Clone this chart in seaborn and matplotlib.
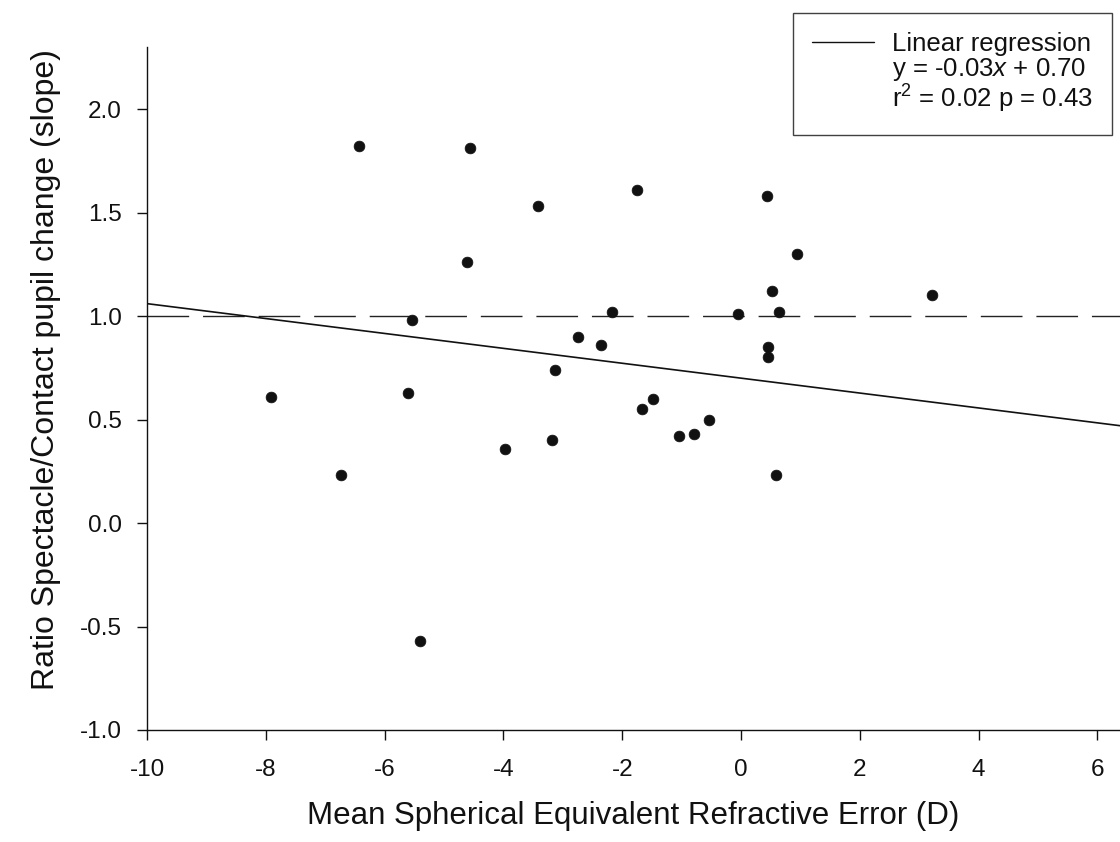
import numpy as np
import pandas as pd
import matplotlib
matplotlib.use("Agg")
import matplotlib.pyplot as plt
from matplotlib.lines import Line2D
import seaborn as sns

# ---- data ----
refractive_error = [-7.91, -6.73, -6.43, -5.60, -5.54, -5.40, -4.56, -4.61, -3.97, -3.42,
                    -3.18, -3.13, -2.74, -2.36, -2.17, -1.75, -1.67, -1.48, -1.04, -0.79,
                    -0.54, -0.05, 0.44, 0.46, 0.46, 0.52, 0.59, 0.64, 0.95, 3.21]
ratio_slope = [0.61, 0.23, 1.82, 0.63, 0.98, -0.57, 1.81, 1.26, 0.36, 1.53,
               0.40, 0.74, 0.90, 0.86, 1.02, 1.61, 0.55, 0.60, 0.42, 0.43,
               0.50, 1.01, 1.58, 0.85, 0.80, 1.12, 0.23, 1.02, 1.30, 1.10]
reg_slope = -0.036
reg_intercept = 0.70
reference_ratio = 1.0
x_ticks = [-10, -8, -6, -4, -2, 0, 2, 4, 6]
y_ticks = [-1.0, -0.5, 0.0, 0.5, 1.0, 1.5, 2.0]
legend_lines = ["Linear regression", "y = -0.03$x$ + 0.70", "r$^2$ = 0.02 p = 0.43"]
x_label = "Mean Spherical Equivalent Refractive Error (D)"
y_label = "Ratio Spectacle/Contact pupil change (slope)"

sns.set_theme(style="ticks")
plt.rcParams["font.family"] = ["Liberation Sans", "DejaVu Sans"]
plt.rcParams["mathtext.fontset"] = "custom"
plt.rcParams["mathtext.rm"] = "Liberation Sans"
plt.rcParams["mathtext.it"] = "Liberation Sans:italic"
plt.rcParams["axes.unicode_minus"] = False

df = pd.DataFrame({"x": refractive_error, "y": ratio_slope})

fig = plt.figure(figsize=(11.2, 8.42), dpi=100)
ax = fig.add_axes([147 / 1120, 1 - 730 / 842, 1 - 147 / 1120, (730 - 47) / 842])

xlim = (-10, 6.38)
ylim = (-1.0, 2.3)

# dashed reference line at ratio = 1
ax.axhline(reference_ratio, color="#222222", lw=1.0, linestyle=(0, (30, 10)), zorder=1)

# regression line
line_df = pd.DataFrame({"x": list(xlim)})
line_df["y"] = reg_intercept + reg_slope * line_df["x"]
sns.lineplot(data=line_df, x="x", y="y", ax=ax, color="#111111", lw=1.2, zorder=2)

# scatter
sns.scatterplot(data=df, x="x", y="y", ax=ax, color="#111111", s=60,
                edgecolor="#111111", linewidth=0.5, zorder=3)

ax.set_xlim(*xlim)
ax.set_ylim(*ylim)
ax.set_xticks(x_ticks)
ax.set_xticklabels([str(t) for t in x_ticks])
ax.set_yticks(y_ticks)
ax.set_yticklabels([f"{t:.1f}" for t in y_ticks])

for s in ["top", "right"]:
    ax.spines[s].set_visible(False)
for s in ["left", "bottom"]:
    ax.spines[s].set_color("#111111")
    ax.spines[s].set_linewidth(1.0)

ax.tick_params(axis="both", direction="out", length=7, width=1.0, color="#111111",
               labelsize=17.5, labelcolor="#111111")
ax.tick_params(axis="x", pad=14)
ax.tick_params(axis="y", pad=11)

ax.set_xlabel(x_label, fontsize=22.5, color="#111111", labelpad=14)
ax.set_ylabel(y_label, fontsize=23, color="#111111")
ax.yaxis.set_label_coords(-0.088, 0.527)

handles = [Line2D([], [], color="#111111", lw=1.0),
           Line2D([], [], color="none"),
           Line2D([], [], color="none")]
leg = ax.legend(handles, legend_lines, loc="upper right",
                bbox_to_anchor=(1112 / 1120, 1 - 13 / 842), bbox_transform=fig.transFigure,
                borderaxespad=0, frameon=True, fancybox=False, fontsize=18.5,
                handlelength=2.4, handletextpad=0.7, labelspacing=0.0,
                borderpad=0.75)
leg.get_frame().set_edgecolor("#111111")
leg.get_frame().set_linewidth(1.0)
for t in leg.get_texts():
    t.set_color("#111111")

fig.savefig("out.png", dpi=100, facecolor="white")
